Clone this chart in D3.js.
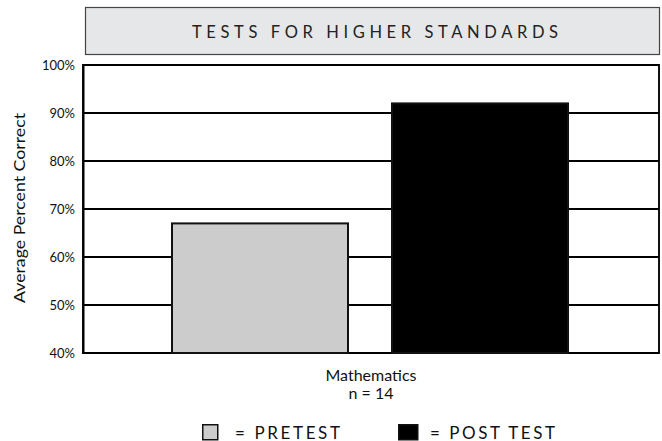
<!DOCTYPE html>
<html><head><meta charset="utf-8">
<script src="https://cdn.jsdelivr.net/npm/d3@7"></script>
<style>body{margin:0;background:#fff}svg{display:block}</style>
</head><body>
<svg id="c" width="662" height="441"></svg>
<script>
const title = "TESTS FOR HIGHER STANDARDS";
const categories = ["PRETEST", "POST TEST"];
const values = [67, 92];
const colors = ["#cccccc", "#000000"];
const yTicks = [40, 50, 60, 70, 80, 90, 100];
const yTitle = "Average Percent Correct";
const groupLabel = ["Mathematics", "n = 14"];

const svg = d3.select("#c");
const font = "'Lato', 'Open Sans', sans-serif";
const L = 83, R = 659, T = 65, B = 353;

// title box
svg.append("rect").attr("x", 85.5).attr("y", 7.5).attr("width", 574).attr("height", 47)
  .attr("fill", "#e6e7e8").attr("stroke", "#444").attr("stroke-width", 1.2);
svg.append("text").attr("x", 375).attr("y", 38).attr("text-anchor", "middle")
  .attr("font-family", font).attr("font-size", 16.5)
  .attr("textLength", 366).attr("lengthAdjust", "spacing")
  .attr("fill", "#222").text(title);

const y = d3.scaleLinear().domain([40, 100]).range([B, T]);
const x = d3.scaleBand().domain(categories).range([172, 568]).paddingInner(0.2).paddingOuter(0);

// plot border
svg.append("rect").attr("x", L).attr("y", T).attr("width", R - L).attr("height", B - T)
  .attr("fill", "#fff").attr("stroke", "#111").attr("stroke-width", 2);

// gridlines
svg.append("g").selectAll("line").data(yTicks).join("line")
  .attr("x1", L).attr("x2", R).attr("y1", d => y(d)).attr("y2", d => y(d))
  .attr("stroke", "#000").attr("stroke-width", 2);

// y axis labels
const ax = svg.append("g").attr("transform", `translate(${L},0)`)
  .call(d3.axisLeft(y).tickValues(yTicks).tickSize(0).tickPadding(8).tickFormat(d => d + "%"));
ax.select(".domain").attr("stroke", "#000").attr("stroke-width", 2);
ax.selectAll("text").attr("font-family", font).attr("font-size", 13).attr("fill", "#111");

// bars
svg.append("g").selectAll("rect").data(categories).join("rect")
  .attr("x", d => x(d)).attr("width", x.bandwidth())
  .attr("y", (d, i) => y(values[i])).attr("height", (d, i) => B - y(values[i]))
  .attr("fill", (d, i) => colors[i]).attr("stroke", "#111").attr("stroke-width", 2);

// y title
svg.append("text").attr("transform", "translate(25,208) rotate(-90)").attr("text-anchor", "middle")
  .attr("font-family", font).attr("font-size", 16)
  .attr("textLength", 190).attr("lengthAdjust", "spacingAndGlyphs")
  .attr("fill", "#111").text(yTitle);

// group label
svg.append("g").selectAll("text").data(groupLabel).join("text")
  .attr("x", 371).attr("y", (d, i) => 381 + i * 18).attr("text-anchor", "middle")
  .attr("font-family", font).attr("font-size", 16)
  .attr("fill", "#111").text(d => d);

// legend
const legX = [202, 398];
const legW = [105, 125];
const lg = svg.append("g").selectAll("g").data(categories).join("g")
  .attr("transform", (d, i) => `translate(${legX[i]},424)`);
lg.append("rect").attr("x", 0.75).attr("y", 0.75).attr("width", (d, i) => i ? 19 : 15)
  .attr("height", 15).attr("fill", (d, i) => colors[i]).attr("stroke", "#111").attr("stroke-width", 1.5);
lg.append("text").attr("x", (d, i) => i ? 32 : 33).attr("y", 14.5).attr("font-family", font).attr("font-size", 17)
  .attr("textLength", (d, i) => legW[i]).attr("lengthAdjust", "spacing")
  .attr("fill", "#111").text(d => "= " + d);
</script>
</body></html>
